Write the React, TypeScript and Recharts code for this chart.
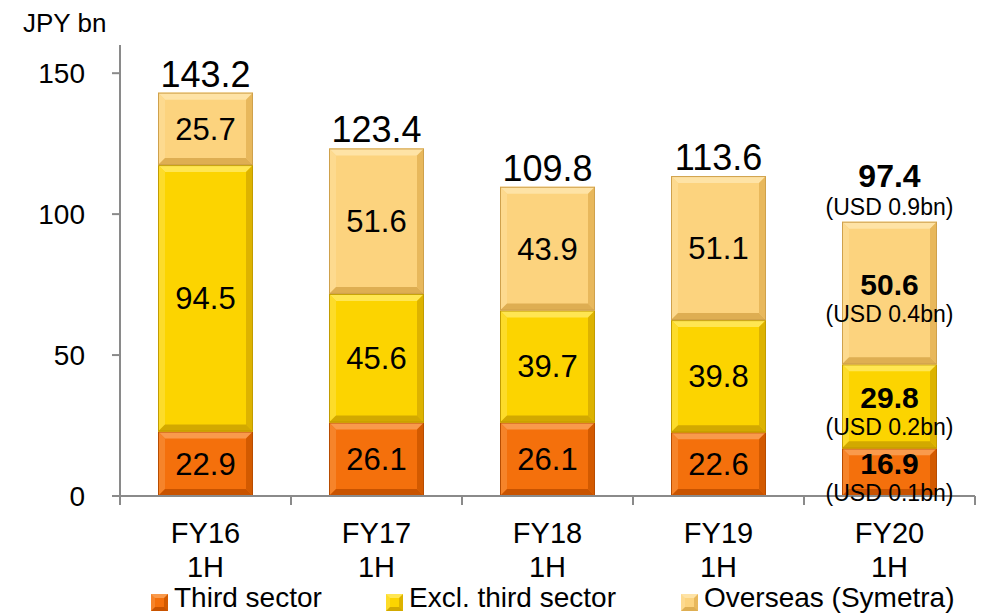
import React from "react";
import { BarChart, Bar, XAxis, YAxis, LabelList } from "recharts";

const fiscalYears = ["FY16", "FY17", "FY18", "FY19", "FY20"];
const periodLabel = "1H";
const thirdSector = [22.9, 26.1, 26.1, 22.6, 16.9];
const exclThirdSector = [94.5, 45.6, 39.7, 39.8, 29.8];
const overseas = [25.7, 51.6, 43.9, 51.1, 50.6];
const totals = [143.2, 123.4, 109.8, 113.6, 97.4];
// USD equivalents are only shown for the latest period
const usdThirdSector = ["", "", "", "", "0.1"];
const usdExclThirdSector = ["", "", "", "", "0.2"];
const usdOverseas = ["", "", "", "", "0.4"];
const usdTotals = ["", "", "", "", "0.9"];
const yTicks = [0, 50, 100, 150];

const chartData = fiscalYears.map((name, i) => ({
  name,
  third: thirdSector[i],
  excl: exclThirdSector[i],
  overseas: overseas[i],
  total: totals[i],
}));

const FONT = "'Liberation Sans', Arial, Helvetica, sans-serif";
const AXIS = "#8a8a8a";
const WIDTH = 987;
const HEIGHT = 614;
const MARGIN = { top: 45, right: 12, bottom: 78, left: 40 };
const Y_AXIS_W = 80;
const X_AXIS_H = 40;
const PLOT_LEFT = MARGIN.left + Y_AXIS_W;
const PLOT_RIGHT = WIDTH - MARGIN.right;
const PLOT_BOTTOM = HEIGHT - MARGIN.bottom - X_AXIS_H;
const BAND = (PLOT_RIGHT - PLOT_LEFT) / fiscalYears.length;
const LAST = fiscalYears.length - 1;

interface Tone {
  face: string;
  top: string;
  left: string;
  right: string;
  bottom: string;
  edge: string;
}

const tones: Record<string, Tone> = {
  third: {
    face: "#f4700c",
    top: "#f99a4c",
    left: "#f6842a",
    right: "#d35a00",
    bottom: "#c85300",
    edge: "#b84c00",
  },
  excl: {
    face: "#fcd400",
    top: "#ffe652",
    left: "#fddc2a",
    right: "#ddb300",
    bottom: "#d2a900",
    edge: "#c29c00",
  },
  overseas: {
    face: "#fcd37e",
    top: "#fee3a6",
    left: "#fdda8f",
    right: "#e8b85c",
    bottom: "#deae52",
    edge: "#cfa14c",
  },
};

const BevelBar = (props: any) => {
  const { x, y, width, height, tone } = props;
  if (!height || height <= 0) return null;
  const b = Math.min(7, height / 2);
  const r = x + width;
  const btm = y + height;
  return (
    <g>
      <rect x={x} y={y} width={width} height={height} fill={tone.face} />
      <polygon points={`${x},${y} ${r},${y} ${r - b},${y + b} ${x + b},${y + b}`} fill={tone.top} />
      <polygon points={`${x},${y} ${x + b},${y + b} ${x + b},${btm - b} ${x},${btm}`} fill={tone.left} />
      <polygon points={`${r},${y} ${r},${btm} ${r - b},${btm - b} ${r - b},${y + b}`} fill={tone.right} />
      <polygon points={`${x},${btm} ${x + b},${btm - b} ${r - b},${btm - b} ${r},${btm}`} fill={tone.bottom} />
      <rect x={x + 0.5} y={y + 0.5} width={width - 1} height={height - 1} fill="none" stroke={tone.edge} strokeWidth={1} />
    </g>
  );
};

const makeSegmentLabel = (usd: string[]) => (props: any) => {
  const { x, y, width, height, value, index } = props;
  const cx = x + width / 2;
  const cy = y + height / 2;
  const text = Number(value).toFixed(1);
  if (index === LAST) {
    return (
      <g fontFamily={FONT} textAnchor="middle" fill="#000">
        <text x={cx} y={cy + 2} fontSize={30} fontWeight="bold">
          {text}
        </text>
        <text x={cx} y={cy + 29} fontSize={23}>
          (USD {usd[index]}bn)
        </text>
      </g>
    );
  }
  return (
    <text x={cx} y={cy} dy="0.355em" textAnchor="middle" fontSize={31} fontFamily={FONT} fill="#000">
      {text}
    </text>
  );
};

const TotalLabel = (props: any) => {
  const { x, y, width, value, index } = props;
  const cx = x + width / 2;
  const text = Number(value).toFixed(1);
  if (index === LAST) {
    return (
      <g fontFamily={FONT} textAnchor="middle" fill="#000">
        <text x={cx} y={y - 35} fontSize={32} fontWeight="bold">
          {text}
        </text>
        <text x={cx} y={y - 7} fontSize={23}>
          (USD {usdTotals[index]}bn)
        </text>
      </g>
    );
  }
  return (
    <text x={cx} y={y - 6} textAnchor="middle" fontSize={36} fontFamily={FONT} fill="#000">
      {text}
    </text>
  );
};

// category labels sit under the bar, tick marks fall on the band boundaries
const CategoryTick = (props: any) => {
  const { x, index, payload } = props;
  const half = BAND / 2;
  return (
    <g>
      <line x1={x + half} x2={x + half} y1={PLOT_BOTTOM} y2={PLOT_BOTTOM + 9} stroke={AXIS} strokeWidth={2} />
      {index === 0 && (
        <line x1={x - half} x2={x - half} y1={PLOT_BOTTOM} y2={PLOT_BOTTOM + 9} stroke={AXIS} strokeWidth={2} />
      )}
      <text x={x} y={PLOT_BOTTOM + 47} textAnchor="middle" fontSize={29} fontFamily={FONT} fill="#000">
        {payload.value}
      </text>
      <text x={x} y={PLOT_BOTTOM + 81} textAnchor="middle" fontSize={29} fontFamily={FONT} fill="#000">
        {periodLabel}
      </text>
    </g>
  );
};

const legendItems = [
  { label: "Third sector", tone: tones.third, left: 151 },
  { label: "Excl. third sector", tone: tones.excl, left: 386 },
  { label: "Overseas (Symetra)", tone: tones.overseas, left: 681 },
];

const LegendSwatch = ({ tone }: { tone: Tone }) => (
  <span
    style={{
      display: "inline-block",
      boxSizing: "border-box",
      width: 17,
      height: 17,
      background: tone.face,
      borderTop: `4px solid ${tone.top}`,
      borderLeft: `4px solid ${tone.left}`,
      borderRight: `4px solid ${tone.right}`,
      borderBottom: `4px solid ${tone.bottom}`,
    }}
  />
);

export default function App() {
  return (
    <div
      style={{
        position: "absolute",
        left: 0,
        top: 0,
        width: WIDTH,
        height: HEIGHT,
        background: "#fff",
        fontFamily: FONT,
        overflow: "hidden",
      }}
    >
      <div style={{ position: "absolute", left: 23, top: 10, fontSize: 26, lineHeight: 1, color: "#000" }}>
        JPY bn
      </div>
      <BarChart
        width={WIDTH}
        height={HEIGHT}
        data={chartData}
        margin={MARGIN}
        barSize={95}
        style={{ fontFamily: FONT }}
      >
        <YAxis
          width={Y_AXIS_W}
          domain={[0, 160]}
          ticks={yTicks}
          interval={0}
          tickSize={8}
          tickMargin={27}
          tick={{ fontSize: 28, fill: "#000", fontFamily: FONT }}
          axisLine={{ stroke: AXIS, strokeWidth: 2 }}
          tickLine={{ stroke: AXIS, strokeWidth: 2 }}
        />
        <XAxis
          dataKey="name"
          height={X_AXIS_H}
          interval={0}
          tickLine={false}
          axisLine={{ stroke: AXIS, strokeWidth: 2 }}
          tick={<CategoryTick />}
        />
        <Bar
          dataKey="third"
          stackId="a"
          isAnimationActive={false}
          fill={tones.third.face}
          shape={(p: any) => <BevelBar {...p} tone={tones.third} />}
        >
          <LabelList dataKey="third" content={makeSegmentLabel(usdThirdSector)} />
        </Bar>
        <Bar
          dataKey="excl"
          stackId="a"
          isAnimationActive={false}
          fill={tones.excl.face}
          shape={(p: any) => <BevelBar {...p} tone={tones.excl} />}
        >
          <LabelList dataKey="excl" content={makeSegmentLabel(usdExclThirdSector)} />
        </Bar>
        <Bar
          dataKey="overseas"
          stackId="a"
          isAnimationActive={false}
          fill={tones.overseas.face}
          shape={(p: any) => <BevelBar {...p} tone={tones.overseas} />}
        >
          <LabelList dataKey="overseas" content={makeSegmentLabel(usdOverseas)} />
          <LabelList dataKey="total" content={TotalLabel} />
        </Bar>
      </BarChart>
      {legendItems.map((item) => (
        <div
          key={item.label}
          style={{
            position: "absolute",
            left: item.left,
            top: 584,
            display: "flex",
            alignItems: "center",
            gap: 6,
            fontSize: 28,
            lineHeight: 1,
            color: "#000",
            whiteSpace: "nowrap",
          }}
        >
          <span style={{ marginTop: 8, display: "flex" }}>
            <LegendSwatch tone={item.tone} />
          </span>
          <span>{item.label}</span>
        </div>
      ))}
    </div>
  );
}
